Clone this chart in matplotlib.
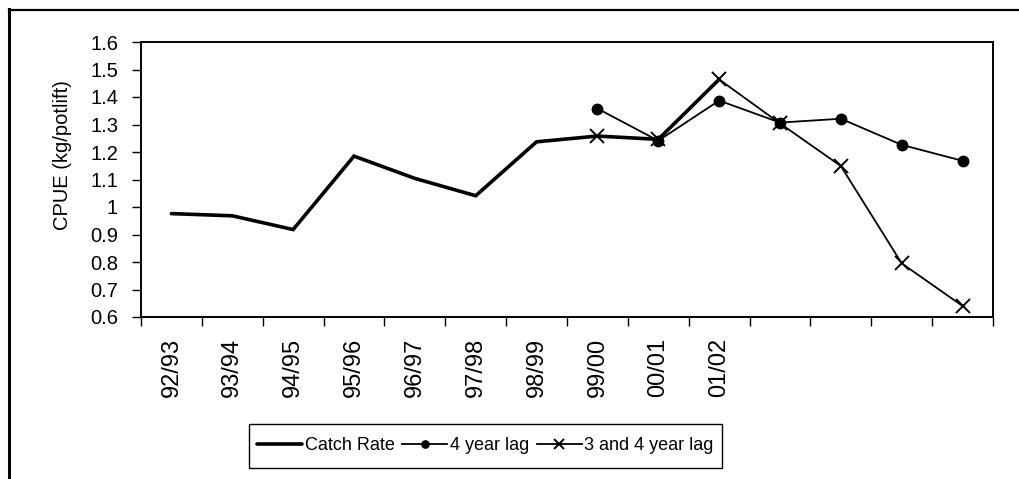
import matplotlib
matplotlib.use("Agg")
import matplotlib.pyplot as plt
from matplotlib.lines import Line2D
from matplotlib.patches import Rectangle
import numpy as np

plt.rcParams['font.family'] = ['Liberation Sans', 'DejaVu Sans']

categories = ["92/93", "93/94", "94/95", "95/96", "96/97", "97/98", "98/99",
              "99/00", "00/01", "01/02", "", "", "", ""]
catch_rate = [0.976, 0.968, 0.918, 1.185, 1.104, 1.041, 1.237, 1.258, 1.246, 1.464,
              None, None, None, None]
lag4 = [None, None, None, None, None, None, None,
        1.358, 1.241, 1.387, 1.307, 1.321, 1.226, 1.168]
lag34 = [None, None, None, None, None, None, None,
         1.258, 1.246, 1.464, 1.304, 1.149, 0.795, 0.640]
yticks = [0.6, 0.7, 0.8, 0.9, 1.0, 1.1, 1.2, 1.3, 1.4, 1.5, 1.6]
ytick_labels = ["0.6", "0.7", "0.8", "0.9", "1", "1.1", "1.2", "1.3", "1.4", "1.5", "1.6"]

def arr(v):
    return np.array([np.nan if x is None else x for x in v], dtype=float)

W, H = 1019, 479
fig = plt.figure(figsize=(W / 100, H / 100), dpi=100)
ax = fig.add_axes([141 / W, 1 - 317 / H, 852 / W, 275 / H])

x = np.arange(len(categories))
l1, = ax.plot(x, arr(catch_rate), color='black', lw=2.6, solid_joinstyle='miter',
              solid_capstyle='round', label='Catch Rate')
l2, = ax.plot(x, arr(lag4), color='black', lw=1.3, marker='o', markersize=7.5,
              label='4 year lag')
l3, = ax.plot(x, arr(lag34), color='black', lw=1.3, marker='x', markersize=9.5,
              markeredgewidth=1.4, label='3 and 4 year lag')

ax.set_xlim(-0.5, len(categories) - 0.5)
ax.set_ylim(0.6, 1.6)
ax.set_yticks(yticks)
ax.set_yticklabels(ytick_labels)
ax.tick_params(axis='y', direction='out', length=6.5, width=1, pad=10, labelsize=14.5)

ax.set_xticks(np.arange(len(categories) + 1) - 0.5)
ax.set_xticklabels([])
ax.tick_params(axis='x', which='major', direction='out', length=6.5, width=1)
ax.set_xticks(x, minor=True)
ax.set_xticklabels(categories, minor=True, rotation=90, fontsize=17)
ax.tick_params(axis='x', which='minor', length=0, pad=15)

for s in ax.spines.values():
    s.set_linewidth(1.4)
    s.set_color('black')

ax.set_ylabel("CPUE (kg/potlift)", fontsize=14.5)
ax.yaxis.set_label_coords((72 - 141) / 852, (317 - 155) / 275)

# legend (frame drawn as separate box)
leg = fig.legend(handles=[l1, l2, l3], loc='center', bbox_to_anchor=(485.5 / W, 1 - 446 / H),
                 ncol=3, frameon=False, fontsize=13,
                 handlelength=2.5, handletextpad=0.15, columnspacing=0.4, borderpad=0.3,
                 markerscale=0.7)
fig.add_artist(Rectangle((249 / W, 1 - 468 / H), (722 - 249) / W, 44 / H,
                         transform=fig.transFigure, fill=False, edgecolor='black', lw=1.0))

# outer chart frame
fig.add_artist(Line2D([8.8 / W, 8.8 / W], [1 - 9 / H, 0], transform=fig.transFigure,
                      color='black', lw=2.2))
fig.add_artist(Line2D([8.8 / W, 1], [1 - 10 / H, 1 - 10 / H], transform=fig.transFigure,
                      color='black', lw=1.6))

fig.savefig("out.png", dpi=100)
